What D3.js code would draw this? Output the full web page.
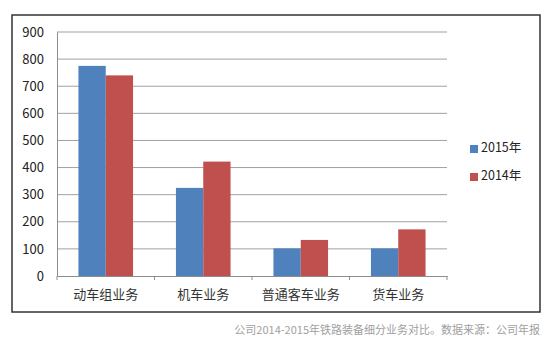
<!DOCTYPE html>
<html><head><meta charset="utf-8">
<script src="https://cdn.jsdelivr.net/npm/d3@7"></script>
<style>body{margin:0;background:#fff;}svg{display:block;}</style>
</head><body>
<svg id="c" width="550" height="343"></svg>
<script>
const categories = ["动车组业务", "机车业务", "普通客车业务", "货车业务"];
const seriesNames = ["2015年", "2014年"];
const values2015 = [775, 325, 102, 102];
const values2014 = [740, 422, 133, 172];
const yTicks = [0, 100, 200, 300, 400, 500, 600, 700, 800, 900];
const colors = ["#4f81bd", "#c0504d"];
const caption = "公司2014-2015年铁路装备细分业务对比。数据来源：公司年报";

(function () {
const svg = d3.select("#c");
const font = "'Noto Sans CJK SC', 'Noto Sans', sans-serif";

// outer frame
svg.append("rect").attr("x", 12).attr("y", 15).attr("width", 528).attr("height", 297)
  .attr("fill", "#fff").attr("stroke", "#333").attr("stroke-width", 1.5);

const pLeft = 57, pRight = 447, pTop = 32, pBottom = 276;
const x = d3.scaleBand().domain(categories).range([pLeft, pRight]).paddingInner(0.44).paddingOuter(0.22);
const x1 = d3.scaleBand().domain(seriesNames).range([0, x.bandwidth()]);
const y = d3.scaleLinear().domain([0, 900]).range([pBottom, pTop]);

// gridlines
svg.append("g").selectAll("line").data(yTicks.filter(d => d > 0)).join("line")
  .attr("x1", pLeft).attr("x2", pRight).attr("y1", d => y(d)).attr("y2", d => y(d))
  .attr("stroke", "#a0a0a0").attr("stroke-width", 1);

// bars
const data = categories.map((c, i) => ({c, vals: [values2015[i], values2014[i]]}));
const g = svg.append("g").selectAll("g").data(data).join("g")
  .attr("transform", d => `translate(${x(d.c)},0)`);
g.selectAll("rect").data(d => d.vals.map((v, j) => ({v, s: seriesNames[j], j}))).join("rect")
  .attr("x", d => x1(d.s)).attr("width", x1.bandwidth())
  .attr("y", d => y(d.v)).attr("height", d => y(0) - y(d.v))
  .attr("fill", d => colors[d.j]);

// y axis
const yAxis = svg.append("g").attr("transform", `translate(${pLeft},0)`)
  .call(d3.axisLeft(y).tickValues(yTicks).tickSize(0).tickPadding(13));
yAxis.select(".domain").attr("stroke", "#8c8c8c");
yAxis.selectAll("text").attr("font-family", font).attr("font-size", 13).attr("fill", "#222");

// x axis
const xAxis = svg.append("g").attr("transform", `translate(0,${pBottom})`)
  .call(d3.axisBottom(x).tickSize(0).tickFormat(() => ""));
xAxis.select(".domain").attr("stroke", "#8c8c8c");
const boundaries = d3.range(categories.length + 1).map(i => pLeft + i * (pRight - pLeft) / categories.length);
svg.append("g").selectAll("line").data(boundaries).join("line")
  .attr("x1", d => d).attr("x2", d => d).attr("y1", pBottom).attr("y2", pBottom + 4)
  .attr("stroke", "#8c8c8c");
svg.append("g").selectAll("text").data(categories).join("text")
  .attr("x", d => x(d) + x.bandwidth() / 2).attr("y", 295)
  .attr("text-anchor", "middle").attr("dominant-baseline", "middle")
  .attr("font-family", font).attr("font-size", 13).attr("fill", "#333")
  .text(d => d);

// legend
const lg = svg.append("g").selectAll("g").data(seriesNames).join("g")
  .attr("transform", (d, i) => `translate(470,${149 + i * 28})`);
lg.append("rect").attr("x", 0).attr("y", -4).attr("width", 8).attr("height", 8)
  .attr("fill", (d, i) => colors[i]);
lg.append("text").attr("x", 11).attr("y", 0).attr("dominant-baseline", "middle")
  .attr("font-family", font).attr("font-size", 12.5).attr("fill", "#222").text(d => d);

// caption
svg.append("text").attr("x", 540).attr("y", 331).attr("text-anchor", "end")
  .attr("dominant-baseline", "middle")
  .attr("font-family", font).attr("font-size", 11).attr("fill", "#a0a0a0").text(caption);
})();
</script>
</body></html>
